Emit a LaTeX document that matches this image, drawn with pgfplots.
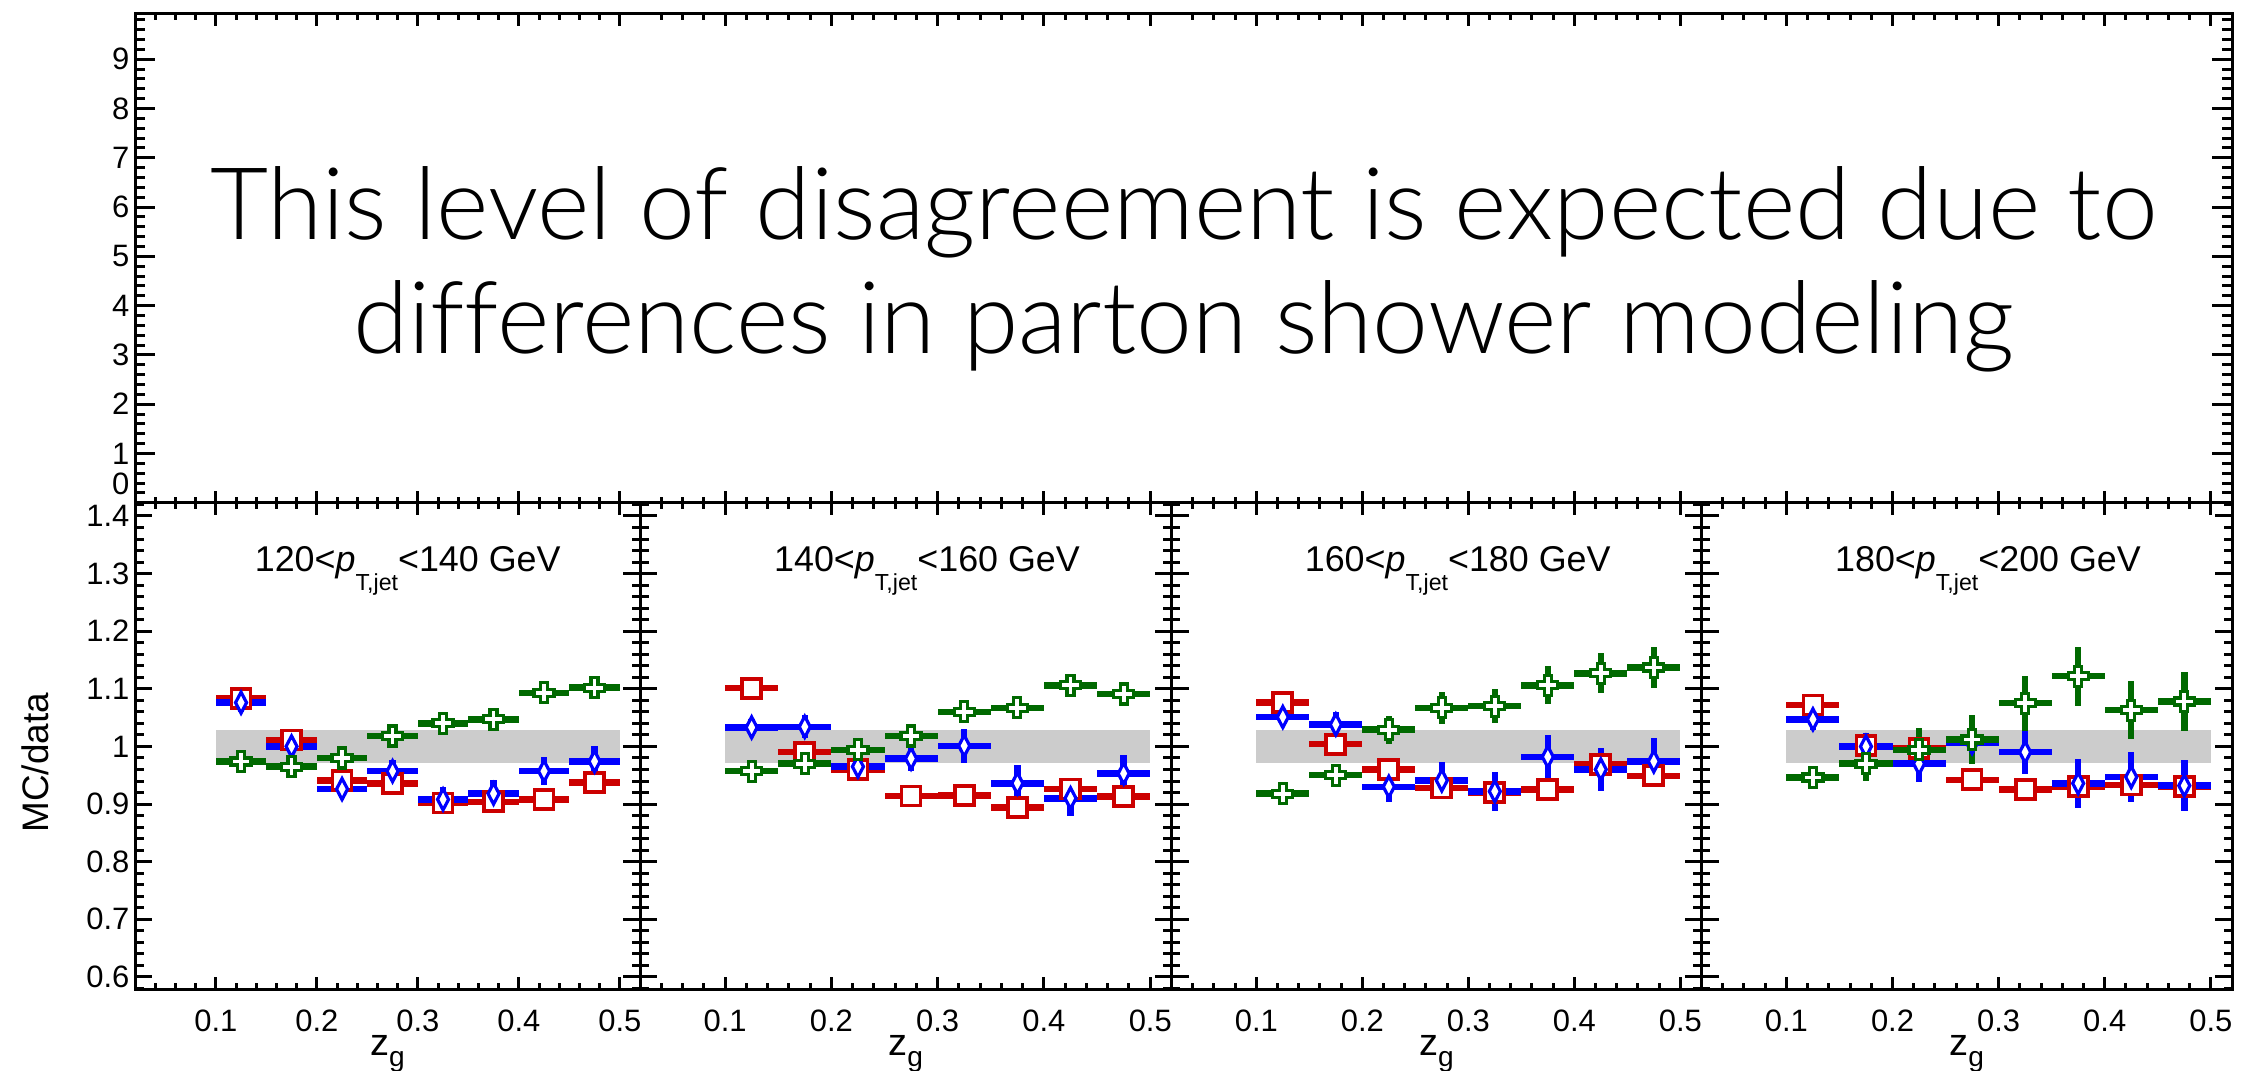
\documentclass[border=0pt]{standalone}
\usepackage{pgfplots}
\pgfplotsset{compat=1.18}
\usepackage{pgfplotstable}
\usepackage{fontspec}
\setmainfont{Liberation Sans}
\IfFontExistsTF{Lato Light}{\newfontfamily\lightfont{Lato Light}[Ligatures=NoCommon]}{%
  \IfFontExistsTF{Fira Sans Light}{\newfontfamily\lightfont{Fira Sans Light}}{%
    \newfontfamily\lightfont{Liberation Sans}}}

\definecolor{rred}{RGB}{204,0,0}
\definecolor{rblue}{RGB}{0,0,255}
\definecolor{rgreen}{RGB}{0,105,0}
\definecolor{band}{RGB}{204,204,204}

\pgfdeclareplotmark{ocross}{%
  \pgfpathmoveto{\pgfqpoint{-0.35\pgfplotmarksize}{\pgfplotmarksize}}%
  \pgfpathlineto{\pgfqpoint{0.35\pgfplotmarksize}{\pgfplotmarksize}}%
  \pgfpathlineto{\pgfqpoint{0.35\pgfplotmarksize}{0.35\pgfplotmarksize}}%
  \pgfpathlineto{\pgfqpoint{\pgfplotmarksize}{0.35\pgfplotmarksize}}%
  \pgfpathlineto{\pgfqpoint{\pgfplotmarksize}{-0.35\pgfplotmarksize}}%
  \pgfpathlineto{\pgfqpoint{0.35\pgfplotmarksize}{-0.35\pgfplotmarksize}}%
  \pgfpathlineto{\pgfqpoint{0.35\pgfplotmarksize}{-\pgfplotmarksize}}%
  \pgfpathlineto{\pgfqpoint{-0.35\pgfplotmarksize}{-\pgfplotmarksize}}%
  \pgfpathlineto{\pgfqpoint{-0.35\pgfplotmarksize}{-0.35\pgfplotmarksize}}%
  \pgfpathlineto{\pgfqpoint{-\pgfplotmarksize}{-0.35\pgfplotmarksize}}%
  \pgfpathlineto{\pgfqpoint{-\pgfplotmarksize}{0.35\pgfplotmarksize}}%
  \pgfpathlineto{\pgfqpoint{-0.35\pgfplotmarksize}{0.35\pgfplotmarksize}}%
  \pgfpathclose
  \pgfusepathqfillstroke}

% columns: bin centre, red (square), blue (diamond), green (cross) with errors
\pgfplotstableread{
x r er b eb g eg
0.125 1.083 0.008 1.076 0.016 0.974 0.010
0.175 1.011 0.008 1.000 0.012 0.965 0.010
0.225 0.941 0.008 0.926 0.015 0.980 0.010
0.275 0.936 0.008 0.957 0.019 1.018 0.010
0.325 0.902 0.008 0.908 0.022 1.040 0.010
0.375 0.904 0.008 0.918 0.023 1.047 0.010
0.425 0.908 0.008 0.957 0.024 1.093 0.010
0.475 0.937 0.008 0.974 0.026 1.102 0.010
}\tabA
\pgfplotstableread{
x r er b eb g eg
0.125 1.101 0.008 1.033 0.014 0.957 0.010
0.175 0.990 0.008 1.034 0.020 0.970 0.012
0.225 0.960 0.008 0.965 0.020 0.994 0.014
0.275 0.914 0.008 0.979 0.022 1.018 0.015
0.325 0.915 0.008 1.001 0.030 1.060 0.018
0.375 0.894 0.008 0.936 0.031 1.067 0.020
0.425 0.926 0.008 0.910 0.030 1.106 0.020
0.475 0.913 0.008 0.953 0.033 1.091 0.020
}\tabB
\pgfplotstableread{
x r er b eb g eg
0.125 1.076 0.010 1.051 0.012 0.918 0.010
0.175 1.004 0.010 1.038 0.022 0.950 0.015
0.225 0.960 0.010 0.930 0.026 1.029 0.024
0.275 0.928 0.010 0.941 0.032 1.067 0.028
0.325 0.920 0.010 0.922 0.034 1.070 0.030
0.375 0.925 0.010 0.982 0.037 1.106 0.033
0.425 0.969 0.010 0.960 0.038 1.127 0.035
0.475 0.949 0.010 0.974 0.040 1.137 0.035
}\tabC
\pgfplotstableread{
x r er b eb g eg
0.125 1.072 0.010 1.047 0.018 0.946 0.015
0.175 1.001 0.010 1.000 0.024 0.970 0.030
0.225 0.996 0.010 0.970 0.032 0.994 0.038
0.275 0.942 0.010 1.006 0.030 1.012 0.043
0.325 0.925 0.010 0.990 0.038 1.075 0.048
0.375 0.930 0.010 0.936 0.042 1.122 0.051
0.425 0.933 0.010 0.947 0.044 1.063 0.050
0.475 0.930 0.010 0.932 0.044 1.078 0.052
}\tabD

\pgfplotsset{
  rootframe/.style={
    scale only axis, anchor=south west,
    axis line style={line width=0.3mm},
    tick style={line width=0.3mm, black},
    tick align=inside, tick pos=both,
    tick label style={font=\fontsize{8.8}{10}\selectfont},
    /pgf/number format/assume math mode=true,
  },
  xticks/.style={
    xmin=0.02, xmax=0.52,
    xtick={0.1,0.2,0.3,0.4,0.5},
    minor xtick={0.04,0.06,...,0.5},
    xtick style={/pgfplots/major tick length=1.2mm, /pgfplots/minor tick length=0.6mm},
  },
  ratiopanel/.style={
    rootframe, xticks,
    width=#1, height=48.63mm,
    ymin=0.579, ymax=1.423,
    ytick={0.6,0.7,0.8,0.9,1,1.1,1.2,1.3,1.4},
    minor ytick={0.58,0.60,...,1.42},
    ytick style={/pgfplots/major tick length=1.7mm, /pgfplots/minor tick length=0.85mm},
    xticklabel style={yshift=-0.8mm},
    yticklabel style={/pgf/number format/fixed, inner sep=0.5mm},
    xlabel={z\raisebox{-0.3em}{\fontsize{8}{9}\selectfont g}},
    every axis x label/.style={at={(rel axis cs:0.5,-0.134)}, anchor=center, font=\fontsize{10.8}{12}\selectfont},
  },
  topticks/.style={
    rootframe, xticks,
    width=#1, height=48.87mm,
    ymin=0, ymax=9.92, ytick=\empty,
    xticklabels={},
    axis line style={draw=none},
  },
  redser/.style={only marks, mark=square*, mark size=0.95mm,
    mark options={fill=white, draw=rred, line width=0.38mm},
    error bars/.cd, x dir=both, x fixed=0.025, y dir=both, y explicit,
    error bar style={line width=0.65mm, color=rred}, error mark=none},
  blueser/.style={only marks, mark=diamond*, mark size=1.05mm,
    mark options={fill=white, draw=rblue, line width=0.32mm, xscale=0.7},
    error bars/.cd, x dir=both, x fixed=0.025, y dir=both, y explicit,
    error bar style={line width=0.65mm, color=rblue}, error mark=none},
  greenser/.style={only marks, mark=ocross, mark size=1.0mm,
    mark options={fill=white, draw=rgreen, line width=0.32mm},
    error bars/.cd, x dir=both, x fixed=0.025, y dir=both, y explicit,
    error bar style={line width=0.65mm, color=rgreen}, error mark=none},
}

\newcommand{\ptlabel}[2]{#1<\textit{p}\raisebox{-0.53em}{\fontsize{6.6}{7}\selectfont T,jet}<#2 GeV}
\newcommand{\lineA}{This level of disagreement is expected due to}
\newcommand{\lineB}{differences in parton shower modeling}
\newlength\lineAwd

\begin{document}
\settowidth{\lineAwd}{\lightfont\fontsize{27.6}{32}\selectfont\lineA}%
\pgfmathsetmacro{\boxscale}{194.7/(\lineAwd/1mm)}%
\begin{tikzpicture}
\path[use as bounding box] (0,0) rectangle (224.7mm,107mm);

% ---------- upper region (covered by the comment box) ----------
\begin{axis}[rootframe, at={(13.5mm,56.73mm)}, width=209.7mm, height=48.87mm,
  xmin=0, xmax=1, xtick=\empty,
  ymin=0, ymax=9.92,
  ytick={1,2,3,4,5,6,7,8,9},
  extra y ticks={0},
  extra y tick style={yticklabel style={yshift=1.9mm}},
  minor ytick={0.2,0.4,...,9.8},
  major tick length=2mm, minor tick length=1mm,
  yticklabel style={inner sep=0.5mm}]
\end{axis}
\begin{axis}[topticks=50.5mm, at={(13.5mm,56.73mm)}]\end{axis}
\begin{axis}[topticks=53.15mm, at={(64.0mm,56.73mm)}]\end{axis}
\begin{axis}[topticks=53.0mm, at={(117.15mm,56.73mm)}]\end{axis}
\begin{axis}[topticks=53.05mm, at={(170.15mm,56.73mm)}]\end{axis}

\node[anchor=base, inner sep=0pt] at (118.35mm,83.0mm)
  {\scalebox{\boxscale}{\lightfont\fontsize{27.6}{32}\selectfont\lineA}};
\node[anchor=base, inner sep=0pt] at (118.35mm,71.7mm)
  {\scalebox{\boxscale}{\lightfont\fontsize{27.6}{32}\selectfont\lineB}};

% ---------- ratio panels ----------
\begin{axis}[ratiopanel=50.5mm, at={(13.5mm,8.1mm)},
  ylabel={MC/data},
  every axis y label/.style={at={(rel axis cs:-0.198,0.465)}, rotate=90, anchor=center, font=\fontsize{10.5}{12}\selectfont}]
\addplot[fill=band, draw=none, forget plot] coordinates {(0.1,0.972) (0.5,0.972) (0.5,1.028) (0.1,1.028)} -- cycle;
\addplot[redser] table[x=x, y=r, y error=er] {\tabA};
\addplot[blueser] table[x=x, y=b, y error=eb] {\tabA};
\addplot[greenser] table[x=x, y=g, y error=eg] {\tabA};
\node[anchor=base, font=\fontsize{10.2}{12}\selectfont] at (axis cs:0.29,1.304) {\ptlabel{120}{140}};
\end{axis}

\begin{axis}[ratiopanel=53.15mm, at={(64.0mm,8.1mm)}, yticklabels={}]
\addplot[fill=band, draw=none, forget plot] coordinates {(0.1,0.972) (0.5,0.972) (0.5,1.028) (0.1,1.028)} -- cycle;
\addplot[redser] table[x=x, y=r, y error=er] {\tabB};
\addplot[blueser] table[x=x, y=b, y error=eb] {\tabB};
\addplot[greenser] table[x=x, y=g, y error=eg] {\tabB};
\node[anchor=base, font=\fontsize{10.2}{12}\selectfont] at (axis cs:0.29,1.304) {\ptlabel{140}{160}};
\end{axis}

\begin{axis}[ratiopanel=53.0mm, at={(117.15mm,8.1mm)}, yticklabels={}]
\addplot[fill=band, draw=none, forget plot] coordinates {(0.1,0.972) (0.5,0.972) (0.5,1.028) (0.1,1.028)} -- cycle;
\addplot[redser] table[x=x, y=r, y error=er] {\tabC};
\addplot[blueser] table[x=x, y=b, y error=eb] {\tabC};
\addplot[greenser] table[x=x, y=g, y error=eg] {\tabC};
\node[anchor=base, font=\fontsize{10.2}{12}\selectfont] at (axis cs:0.29,1.304) {\ptlabel{160}{180}};
\end{axis}

\begin{axis}[ratiopanel=53.05mm, at={(170.15mm,8.1mm)}, yticklabels={}]
\addplot[fill=band, draw=none, forget plot] coordinates {(0.1,0.972) (0.5,0.972) (0.5,1.028) (0.1,1.028)} -- cycle;
\addplot[redser] table[x=x, y=r, y error=er] {\tabD};
\addplot[blueser] table[x=x, y=b, y error=eb] {\tabD};
\addplot[greenser] table[x=x, y=g, y error=eg] {\tabD};
\node[anchor=base, font=\fontsize{10.2}{12}\selectfont] at (axis cs:0.29,1.304) {\ptlabel{180}{200}};
\end{axis}
\end{tikzpicture}
\end{document}
